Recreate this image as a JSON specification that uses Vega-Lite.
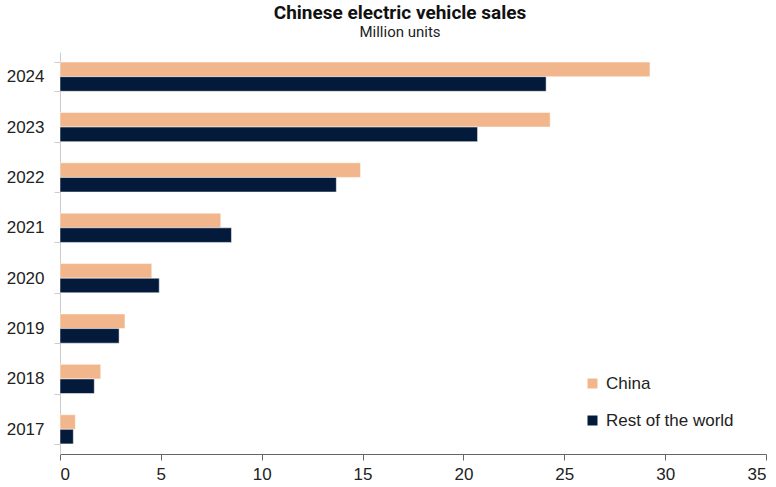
{
  "$schema": "https://vega.github.io/schema/vega-lite/v6.json",
  "width": 706,
  "height": 402,
  "autosize": {"type": "none"},
  "padding": {"left": 60, "top": 52, "right": 10, "bottom": 33},
  "background": "white",
  "title": {
    "text": "Chinese electric vehicle sales",
    "subtitle": "Million units",
    "anchor": "middle",
    "dx": -13,
    "offset": 3,
    "font": "Roboto",
    "fontSize": 19,
    "fontWeight": "bold",
    "color": "#111111",
    "subtitleFont": "Roboto",
    "subtitleFontSize": 15,
    "subtitleColor": "#222222",
    "subtitlePadding": 2
  },
  "data": {
    "values": [
      {"year": 2024, "series": "China", "value": 29.25},
      {"year": 2024, "series": "Rest of the world", "value": 24.1},
      {"year": 2023, "series": "China", "value": 24.3},
      {"year": 2023, "series": "Rest of the world", "value": 20.7},
      {"year": 2022, "series": "China", "value": 14.9},
      {"year": 2022, "series": "Rest of the world", "value": 13.7},
      {"year": 2021, "series": "China", "value": 7.97},
      {"year": 2021, "series": "Rest of the world", "value": 8.5},
      {"year": 2020, "series": "China", "value": 4.55},
      {"year": 2020, "series": "Rest of the world", "value": 4.92},
      {"year": 2019, "series": "China", "value": 3.22},
      {"year": 2019, "series": "Rest of the world", "value": 2.93},
      {"year": 2018, "series": "China", "value": 2.02},
      {"year": 2018, "series": "Rest of the world", "value": 1.7},
      {"year": 2017, "series": "China", "value": 0.76},
      {"year": 2017, "series": "Rest of the world", "value": 0.66}
    ]
  },
  "mark": {"type": "bar", "stroke": "white", "strokeWidth": 0.5},
  "encoding": {
    "y": {
      "field": "year",
      "type": "ordinal",
      "sort": "descending",
      "scale": {"paddingInner": 0.42},
      "axis": {
        "title": null,
        "tickBand": "extent",
        "domainColor": "#cccccc",
        "tickColor": "#cccccc",
        "tickSize": 6,
        "labelFontSize": 17,
        "labelPadding": 10,
        "labelColor": "#222222",
        "labelFont": "Liberation Sans"
      }
    },
    "yOffset": {"field": "series", "sort": ["China", "Rest of the world"]},
    "x": {
      "field": "value",
      "type": "quantitative",
      "scale": {"domain": [0, 35]},
      "axis": {
        "title": null,
        "grid": false,
        "values": [0, 5, 10, 15, 20, 25, 30, 35],
        "domainColor": "#666666",
        "tickColor": "#666666",
        "tickSize": 6,
        "labelFontSize": 17,
        "labelPadding": 6,
        "labelColor": "#222222",
        "labelFont": "Liberation Sans"
      }
    },
    "color": {
      "field": "series",
      "type": "nominal",
      "scale": {"domain": ["China", "Rest of the world"], "range": ["#F2B68C", "#041A3B"]},
      "legend": {
        "title": null,
        "orient": "none",
        "legendX": 524,
        "legendY": 323,
        "symbolType": "square",
        "symbolSize": 100,
        "symbolStrokeWidth": 0,
        "labelFontSize": 17,
        "labelOffset": 5,
        "labelFont": "Liberation Sans",
        "labelColor": "#222222",
        "rowPadding": 19
      }
    }
  },
  "config": {"view": {"stroke": null}}
}
